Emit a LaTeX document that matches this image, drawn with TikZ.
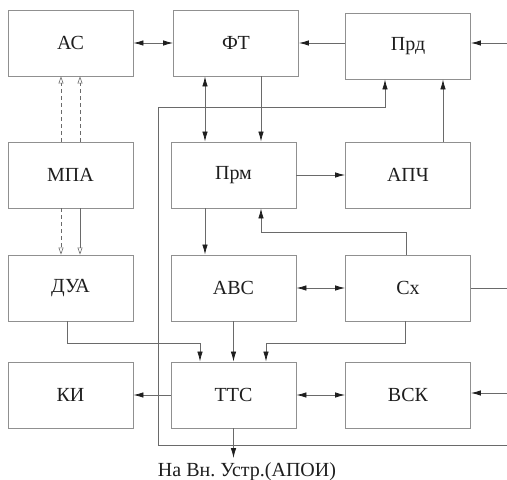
\documentclass[tikz,border=0pt]{standalone}
\usepackage{fontspec}
\setmainfont{Liberation Serif}
\usetikzlibrary{positioning,calc,arrows.meta}
\definecolor{Cadre}{HTML}{909090}
\definecolor{Trait}{HTML}{6A6A6A}
\definecolor{Pointe}{HTML}{1E1E1E}
\definecolor{Texte}{HTML}{1E1E1E}

\begin{document}
\begin{tikzpicture}[x=1pt,y=-1pt,
    bloc/.style={draw=Cadre, line width=.9pt, minimum width=125pt, minimum height=66pt,
      inner sep=0pt, text=Texte, font=\fontsize{20}{24}\selectfont},
    fleche/.style={draw=Trait, line width=.8pt, -{Latex[length=10pt,width=5.5pt,color=Pointe]}},
    double/.style={draw=Trait, line width=.8pt, {Latex[length=10pt,width=5.5pt,color=Pointe]}-{Latex[length=10pt,width=5.5pt,color=Pointe]}},
    creux/.style={draw=Trait, line width=.6pt, -{Triangle[open,length=7pt,width=5pt]}},
    tirets/.style={dash pattern=on 4pt off 3pt}]
        \useasboundingbox (0,0) rectangle (507,480);
        \foreach \nom/\lib/\x/\y in {ac/АС/70.5/43, ft/ФТ/236/43, prd/Прд/408/46,
            mpa/МПА/70.5/175, prm/Прм/233.5/175, apch/АПЧ/408/175,
            dua/ДУА/70.5/288, avs/АВС/233.5/288, sx/Сх/408/288,
            ki/КИ/70.5/395, tts/ТТС/233.5/395, vsk/ВСК/408/395}{
          \node[bloc] (\nom) at (\x,\y) {\lib};
        }
        \node[anchor=north, text=Texte, font=\fontsize{20}{24}\selectfont, inner sep=0pt] (sortie) at (247,462) {На Вн.\ Устр.(АПОИ)};
        % entrées et sorties vers l'extérieur
        \coordinate (entPrd) at (507,43);
        \coordinate (entBus) at (507,445);
        \coordinate (sorSx) at (507,288);
        \coordinate (entVsk) at (507,393);

        % ligne du haut
        \draw[double] (ac) -- (ft);
        \draw[fleche] (prd.west |- ft.east) -- (ft.east);
        \draw[fleche] (entPrd) -- (entPrd -| prd.east);
        % commandes de l'antenne
        \draw[creux, tirets] ([xshift=-9.5pt]mpa.north) -- ([xshift=-9.5pt]ac.south);
        \draw[creux, tirets] ([xshift=9.5pt]mpa.north) -- ([xshift=9.5pt]ac.south);
        \draw[creux, tirets] ([xshift=-9.5pt]mpa.south) -- ([xshift=-9.5pt]dua.north);
        \draw[creux] ([xshift=9.5pt]mpa.south) -- ([xshift=9.5pt]dua.north);
        % voie de réception
        \draw[double] (ft.south -| 205,0) -- (prm.north -| 205,0);
        \draw[fleche] (ft.south -| 261,0) -- (prm.north -| 261,0);
        \draw[fleche] (prm) -- (apch);
        \draw[fleche] ([xshift=35pt]apch.north) -- ([xshift=35pt]prd.south);
        \draw[fleche] (entBus) -| (158,107) -| ([xshift=-23pt]prd.south);
        \draw[fleche] ([xshift=-2pt]sx.north) |- (261,232) -- (prm.south -| 261,0);
        \draw[fleche] (prm.south -| 205,0) -- (avs.north -| 205,0);
        \draw[double] (avs) -- (sx);
        \draw[draw=Trait, line width=.8pt] (sx) -- (sorSx);
        % vers le TTC
        \draw[fleche] ([xshift=-3.5pt]dua.south) |- (200,343) -- (tts.north -| 200,0);
        \draw[fleche] (avs) -- (tts);
        \draw[fleche] ([xshift=-3pt]sx.south) |- (266,343) -- (tts.north -| 266,0);
        \draw[fleche] (tts) -- (ki);
        \draw[double] (tts) -- (vsk);
        \draw[fleche] (entVsk) -- (entVsk -| vsk.east);
        \draw[fleche] (tts.south) -- (tts.south |- 0,458);
      \end{tikzpicture}
\end{document}
